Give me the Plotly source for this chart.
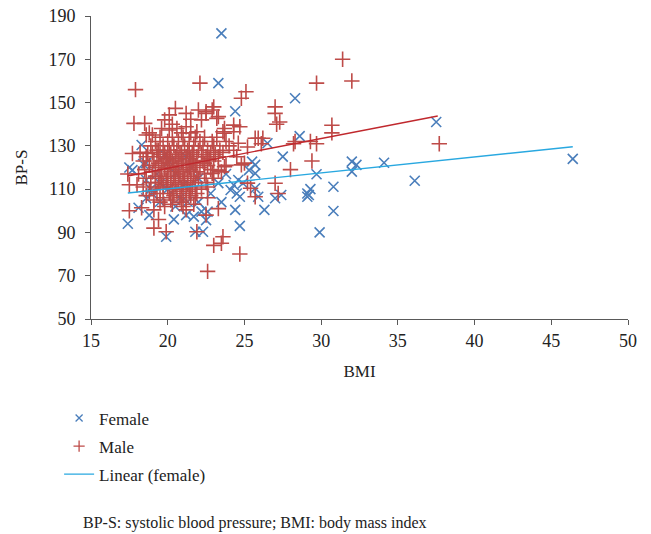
import plotly.graph_objects as go

# ---------------- data ----------------
female_bmi = [17.4, 20.4, 19.9, 18.8, 18.1, 18.6, 19.5, 21.2, 21.8, 22.3, 22.2, 21.7, 21.3,
              18.3, 18.6, 17.7, 18.6, 20.1, 20.5, 19.5, 17.5, 18.4, 22.6, 22.5, 24.7, 27.0,
              24.4, 26.3, 24.7, 29.1, 23.3, 24.1, 24.5, 25.7, 25.9, 27.4, 29.1, 24.6, 24.3,
              24.9, 25.5, 25.7, 25.3, 25.7, 26.5, 27.5, 28.6, 28.3, 24.4, 23.3, 23.5, 37.5,
              46.4, 32.0, 32.3, 32.0, 34.1, 36.1, 29.7, 29.3, 29.2, 30.8, 30.8, 29.9,
              19.0, 20.0, 21.0, 22.0, 20.8, 19.3, 21.5, 22.8, 23.5, 20.5, 22.0, 23.8, 21.2,
              19.8, 18.9]
female_bp = [94, 96, 88, 98, 101.4, 105.8, 104.2, 98, 90.3, 90.3, 99.6, 97.3, 104.2,
             130.4, 122, 118.8, 114.2, 122.7, 117.3, 112.7, 120, 121.6, 99.6, 95.7, 106.5, 105.8,
             100.4, 100.4, 93, 106.5, 112.8, 109.6, 108, 110.4, 106.5, 107.3, 108, 114.2, 111.9,
             112.7, 122.7, 121.2, 118.8, 117.3, 131.2, 125, 134.5, 152, 146, 159, 182, 141,
             124, 122.7, 121.2, 118.1, 122.2, 113.9, 116.9, 110, 107.3, 111.1, 99.9, 90,
             108, 110, 112, 115, 106, 117, 120, 108, 104, 102, 104, 117, 125,
             126, 110]

male_bmi = [17.9, 22.1, 29.7, 32.0, 31.4, 25.1, 24.8, 27.0, 27.0, 27.3, 27.1, 30.7, 30.7,
            29.7, 29.4, 37.7, 28.0, 29.3, 28.2, 28.3, 25.2, 25.7, 26.2, 26.1, 24.3, 24.7,
            23.7, 24.3, 23.6, 22.9, 23.0, 22.5, 23.3, 23.2, 17.8, 18.5, 20.5, 21.2, 22.0,
            22.5, 19.8, 21.5, 20.1, 21.2, 22.2, 18.8, 20.1, 21.9, 23.7, 24.6, 25.9, 25.0,
            27.0, 27.2, 25.4, 22.9, 23.3, 23.7, 22.6, 23.3, 23.6, 23.0, 23.5, 24.7, 22.6,
            22.6, 25.7, 17.5, 18.3, 19.1, 19.4, 19.1, 19.9, 21.2, 21.9, 22.5, 17.7, 17.4,
            17.5, 18.0, 18.6, 19.0, 18.7, 19.3, 24.8, 25.2,
            # dense cluster
            19.5, 20.3, 21.0, 21.8, 22.4, 23.2,
            19.2, 20.0, 20.7, 21.4, 22.1, 22.9, 23.8,
            18.9, 19.7, 20.4, 21.1, 21.7, 22.3, 23.0, 24.0,
            19.4, 20.1, 20.6, 21.3, 22.0, 22.6, 23.4, 24.3,
            18.2, 19.0, 19.8, 20.9, 21.6, 22.8, 23.6,
            19.5, 20.2, 20.8, 21.4, 22.2, 23.1,
            18.6, 19.3, 20.0, 20.5, 21.2, 21.9, 22.5, 23.3, 24.5,
            19.9, 20.7, 21.5, 22.7,
            18.4, 19.1, 19.7, 20.3, 21.0, 21.7, 22.3, 23.0,
            19.4, 20.1, 20.9, 21.6, 22.4,
            18.8, 19.6, 20.4, 21.2, 21.8, 22.6, 23.8,
            19.2, 20.0, 20.6, 21.4, 22.1,
            18.5, 19.8, 20.7, 21.5, 22.8,
            19.0, 20.2, 21.0, 21.9, 23.5,
            18.1, 19.5, 20.5, 21.3, 22.4,
            19.2, 20.0, 20.8, 21.7,
            18.6, 19.6, 20.4, 21.1, 22.0, 23.0,
            19.9, 20.7, 21.5,
            18.9, 19.4, 20.2, 21.0, 21.8, 22.5,
            19.7, 20.5, 21.3,
            18.4, 19.2, 20.0, 20.9, 21.6,
            19.5, 20.3, 21.2, 22.2,
            18.8, 20.6, 21.4,
            19.3, 20.1, 21.0, 21.9,
            18.6, 20.4, 21.5,
            19.7, 20.8, 21.8,
            19.1, 20.2, 21.2,
            19.5, 20.9,
            20.3, 21.7,
            19.8, 21.0,
            19.6, 20.6, 20.9, 21.5, 20.3]
male_bp = [156, 159, 159, 160, 170, 155, 152, 148, 145, 141, 140, 139.5, 136,
           131, 123, 131, 119, 132, 131, 132, 129.5, 133.5, 133.5, 131, 139.6, 138.8,
           138, 136.5, 136.5, 146.6, 148, 145, 143.5, 142.7, 140.4, 140.4, 147.3, 145, 146.6,
           145.8, 142, 142.3, 144.3, 138.8, 142, 136, 137.3, 136.5, 135.8, 131.2, 133.5, 122,
           112.7, 108, 110.4, 117.3, 118.8, 120.4, 111, 101, 88, 84, 85, 80, 72,
           106, 106.5, 100, 101.4, 100.4, 96, 92, 90.3, 100.4, 90.3, 98, 126.5, 117,
           112, 112, 135, 135, 126.5, 128, 121.2, 112.8,
           134, 134, 134, 134, 134, 134,
           132, 132, 132, 132, 132, 132, 132,
           130, 130, 130, 130, 130, 130, 130, 130,
           128, 128, 128, 128, 128, 128, 128, 128,
           127, 127, 127, 127, 127, 127, 127,
           126, 126, 126, 126, 126, 126,
           125, 125, 125, 125, 125, 125, 125, 125, 125,
           124, 124, 124, 124,
           123, 123, 123, 123, 123, 123, 123, 123,
           122, 122, 122, 122, 122,
           121, 121, 121, 121, 121, 121, 121,
           120, 120, 120, 120, 120,
           119, 119, 119, 119, 119,
           118, 118, 118, 118, 118,
           117, 117, 117, 117, 117,
           116, 116, 116, 116,
           115, 115, 115, 115, 115, 115,
           114, 114, 114,
           113, 113, 113, 113, 113, 113,
           112, 112, 112,
           111, 111, 111, 111, 111,
           110, 110, 110, 110,
           109, 109, 109,
           108, 108, 108, 108,
           107, 107, 107,
           106, 106, 106,
           105, 105, 105,
           104, 104,
           103, 103,
           102, 102,
           138, 138, 136, 136, 140]

# linear trend lines (end points)
female_fit_bmi = [17.4, 46.4]
female_fit_bp = [108.2, 129.6]
male_fit_bmi = [17.4, 37.6]
male_fit_bp = [116.1, 143.8]

x_ticks = [15, 20, 25, 30, 35, 40, 45, 50]
y_ticks = [50, 70, 90, 110, 130, 150, 170, 190]

FONT = "Liberation Serif"
TXT = "#222222"
FEMALE_C = "#4A7EBB"
MALE_C = "#BE4B48"
FEMALE_FIT_C = "#29A8E0"
MALE_FIT_C = "#C0282D"

fig = go.Figure()
# data traces
fig.add_trace(go.Scatter(
    x=female_bmi, y=female_bp, mode="markers", name="Female", showlegend=False,
    marker=dict(symbol="x-thin-open", size=10, color=FEMALE_C,
                line=dict(width=1.6, color=FEMALE_C))))
fig.add_trace(go.Scatter(
    x=male_bmi, y=male_bp, mode="markers", name="Male", showlegend=False,
    marker=dict(symbol="cross-thin-open", size=11, color=MALE_C,
                line=dict(width=1.6, color=MALE_C))))
fig.add_trace(go.Scatter(
    x=female_fit_bmi, y=female_fit_bp, mode="lines", name="Linear (female)", showlegend=False,
    line=dict(color=FEMALE_FIT_C, width=1.4)))
fig.add_trace(go.Scatter(
    x=male_fit_bmi, y=male_fit_bp, mode="lines", name="Linear (male)",
    showlegend=False, line=dict(color=MALE_FIT_C, width=1.4)))

# legend entries (smaller symbols, as in the reference)
fig.add_trace(go.Scatter(
    x=[None], y=[None], mode="markers", name="Female", legendgroup="f",
    marker=dict(symbol="x-thin-open", size=7, color=FEMALE_C,
                line=dict(width=1.3, color=FEMALE_C))))
fig.add_trace(go.Scatter(
    x=[None], y=[None], mode="markers", name="Male", legendgroup="m",
    marker=dict(symbol="cross-thin-open", size=8, color=MALE_C,
                line=dict(width=1.3, color=MALE_C))))
fig.add_trace(go.Scatter(
    x=[None], y=[None], mode="lines", name="Linear (female)", legendgroup="lf",
    line=dict(color=FEMALE_FIT_C, width=1.4)))

axis_common = dict(showgrid=False, zeroline=False, showline=True, linecolor="#595959",
                   linewidth=1, ticks="outside", ticklen=5, tickcolor="#595959",
                   automargin=False,
                   tickfont=dict(family=FONT, size=18, color=TXT))
fig.update_xaxes(range=[15, 50], tickvals=x_ticks, **axis_common,
                 title=dict(text="BMI", font=dict(family=FONT, size=17, color=TXT), standoff=15))
fig.update_yaxes(range=[50, 190], tickvals=y_ticks, **axis_common, ticklabelstandoff=6,
                 title=dict(text="BP-S", font=dict(family=FONT, size=17, color=TXT), standoff=16))

fig.update_layout(
    width=651, height=534,
    margin=dict(l=91, r=23, t=16, b=215, autoexpand=False),
    plot_bgcolor="white", paper_bgcolor="white",
    font=dict(family=FONT, size=16, color=TXT),
    legend=dict(x=-0.0594, y=-0.2686, xanchor="left", yanchor="top",
                font=dict(family=FONT, size=17, color=TXT),
                itemwidth=30, tracegroupgap=3, traceorder="grouped",
                bgcolor="rgba(0,0,0,0)"),
    annotations=[dict(text="BP-S: systolic blood pressure; BMI: body mass index",
                      xref="paper", yref="paper", x=-0.0186, y=-0.673,
                      xanchor="left", yanchor="middle", showarrow=False,
                      font=dict(family=FONT, size=16, color=TXT))],
)

fig.write_html("out.html", config={"displayModeBar": False},
               post_script="document.body.style.margin='0';document.body.style.overflow='hidden';")
